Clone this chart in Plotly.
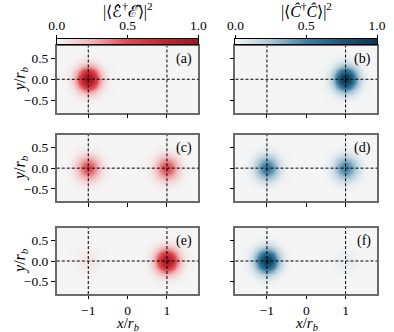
import numpy as np
import plotly.graph_objects as go

# ---------------- data ----------------
panel_labels = ["(a)", "(b)", "(c)", "(d)", "(e)", "(f)"]
# blob centres (x/r_b) and peak amplitudes per panel
blob_x = [-1.0, 1.0]
blob_y = [0.0, 0.0]
amp_a = [1.00, 0.00]
amp_b = [0.00, 1.00]
amp_c = [0.52, 0.52]
amp_d = [0.55, 0.50]
amp_e = [0.06, 0.92]
amp_f = [0.95, 0.05]
blob_sigma = 0.2
panel_amps = [amp_a, amp_b, amp_c, amp_d, amp_e, amp_f]
guide_x = [-1.0, 1.0]
guide_y = [0.0]
x_ticks = [-1, 0, 1]
x_ticktext = ["\u22121", "0", "1"]
y_ticks = [-0.5, 0.0, 0.5]
y_ticktext = ["\u22120.5", "0.0", "0.5"]
cb_ticks = [0.0, 0.5, 1.0]
cb_ticktext = ["0.0", "0.5", "1.0"]
x_range = [-1.8, 1.8]
y_range = [-0.8, 0.8]

red_scale = [[0.0, "#f5f5f5"], [0.25, "#f0b3b6"], [0.5, "#de4b52"], [0.75, "#c5262f"], [1.0, "#9c1820"]]
blue_scale = [[0.0, "#f5f5f5"], [0.25, "#a9c6d6"], [0.5, "#3f80a2"], [0.75, "#1b5879"], [1.0, "#0c364f"]]

FONT = "Liberation Serif"
W, H = 394, 332
TICK = 13.5

xs = np.linspace(x_range[0], x_range[1], 241)
ys = np.linspace(y_range[0], y_range[1], 121)
XX, YY = np.meshgrid(xs, ys)


def field(amps):
    z = np.zeros_like(XX)
    for cx, cy, a in zip(blob_x, blob_y, amps):
        z += a * np.exp(-((XX - cx) ** 2 + (YY - cy) ** 2) / (2 * blob_sigma ** 2))
    return z


# layout geometry (pixels)
col_px = [(51, 199), (237.7, 385.7)]
row_px = [(46, 112.5), (135, 201.3), (228, 294)]
cb_px = (39, 44)


def px_x(a, b):
    return [a / W, b / W]


def px_y(top, bot):
    return [1 - bot / H, 1 - top / H]


fig = go.Figure()
layout = dict(
    width=W, height=H, margin=dict(l=0, r=0, t=0, b=0),
    paper_bgcolor="white", plot_bgcolor="white", showlegend=False,
    font=dict(family=FONT, size=TICK, color="black"),
)
shapes = []
annotations = []
frame_col = "#6a6a6a"

for i in range(6):
    r, c = divmod(i, 2)
    n = i + 1
    sfx = "" if n == 1 else str(n)
    xa, ya = "x" + sfx, "y" + sfx
    scale = red_scale if c == 0 else blue_scale
    fig.add_trace(go.Heatmap(x=xs, y=ys, z=field(panel_amps[i]), zmin=0, zmax=1,
                             colorscale=scale, showscale=False, zsmooth="best",
                             xaxis=xa, yaxis=ya, hoverinfo="skip"))
    layout["xaxis" + sfx] = dict(
        domain=px_x(*col_px[c]), range=x_range, anchor=ya, showgrid=False, zeroline=False,
        tickvals=x_ticks, ticktext=x_ticktext, showticklabels=(r == 2),
        ticks="outside", ticklen=3.5, tickwidth=1, tickcolor="black",
        showline=True, linecolor=frame_col, linewidth=1.5, mirror=True,
        tickfont=dict(family=FONT, size=TICK),
    )
    layout["yaxis" + sfx] = dict(
        domain=px_y(*row_px[r]), range=y_range, anchor=xa, showgrid=False, zeroline=False,
        tickvals=y_ticks, ticktext=y_ticktext, showticklabels=(c == 0),
        ticks="outside", ticklen=4, tickwidth=1, tickcolor="black",
        showline=True, linecolor=frame_col, linewidth=1.5, mirror=True,
        tickfont=dict(family=FONT, size=TICK),
    )
    for gx in guide_x:
        shapes.append(dict(type="line", xref=xa, yref=ya + " domain",
                           x0=gx, x1=gx, y0=0, y1=1, layer="above",
                           line=dict(color="black", width=1, dash="3px,2px")))
    for gy in guide_y:
        shapes.append(dict(type="line", xref=xa + " domain", yref=ya,
                           x0=0, x1=1, y0=gy, y1=gy, layer="above",
                           line=dict(color="black", width=1, dash="3px,2px")))
    annotations.append(dict(text=panel_labels[i], xref=xa + " domain", yref=ya + " domain",
                            x=0.97, y=0.96, xanchor="right", yanchor="top", showarrow=False,
                            font=dict(family=FONT, size=14)))

# y-axis titles
for r in range(3):
    t, b = row_px[r]
    annotations.append(dict(text="<i>y</i>/<i>r</i><sub><i>b</i></sub>", xref="paper", yref="paper",
                            x=12.5 / W, y=1 - (t + b) / 2 / H, textangle=-90, showarrow=False,
                            xanchor="center", yanchor="middle", font=dict(family=FONT, size=16)))
# x-axis titles
for c in range(2):
    a, b = col_px[c]
    annotations.append(dict(text="<i>x</i>/<i>r</i><sub><i>b</i></sub>", xref="paper", yref="paper",
                            x=(a + b) / 2 / W, y=0, showarrow=False,
                            xanchor="center", yanchor="bottom", yshift=-2, borderpad=0,
                            font=dict(family=FONT, size=15)))

# colour bars as separate strips
cb_titles = ["|\u27e8\u2130\u0302<sup>\u2020</sup>\u2130\u0302\u27e9|<sup>2</sup>",
             "|\u27e8<i>C\u0302</i><sup>\u2020</sup><i>C\u0302</i>\u27e9|<sup>2</sup>"]
cb_vals = np.linspace(0, 1, 200)
for c in range(2):
    n = 7 + c
    scale = red_scale if c == 0 else blue_scale
    fig.add_trace(go.Heatmap(x=cb_vals, y=[0], z=[cb_vals], zmin=0, zmax=1, colorscale=scale,
                             showscale=False, xaxis=f"x{n}", yaxis=f"y{n}", hoverinfo="skip"))
    layout[f"xaxis{n}"] = dict(
        domain=px_x(*col_px[c]), range=[0, 1], anchor=f"y{n}", side="top",
        showgrid=False, zeroline=False, tickvals=cb_ticks, ticktext=cb_ticktext,
        ticks="outside", ticklen=3, tickwidth=1, tickcolor="black",
        showline=True, linecolor="black", linewidth=1, mirror=True,
        tickfont=dict(family=FONT, size=TICK),
    )
    layout[f"yaxis{n}"] = dict(
        domain=px_y(*cb_px), range=[-0.5, 0.5], anchor=f"x{n}", showgrid=False,
        zeroline=False, showticklabels=False, ticks="",
        showline=True, linecolor="black", linewidth=1, mirror=True,
    )
    a, b = col_px[c]
    annotations.append(dict(text=cb_titles[c], xref="paper", yref="paper",
                            x=(a + b) / 2 / W, y=1 - 11 / H, showarrow=False,
                            xanchor="center", yanchor="middle", font=dict(family=FONT, size=16)))

layout["shapes"] = shapes
layout["annotations"] = annotations
fig.update_layout(**layout)
fig.write_html("out.html", config={"displayModeBar": False},
               post_script="document.body.style.margin='0';document.body.style.padding='0';")
